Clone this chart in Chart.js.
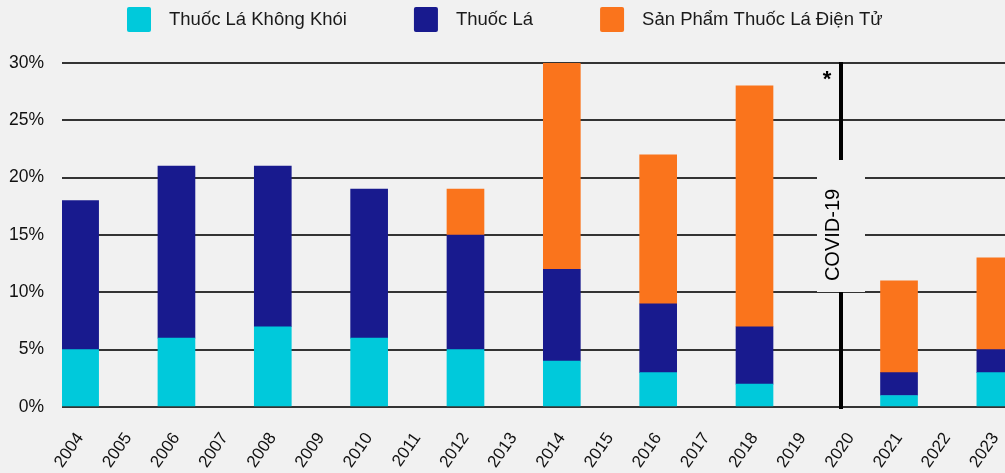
<!DOCTYPE html>
<html>
<head>
<meta charset="utf-8">
<script src="https://cdn.jsdelivr.net/npm/chart.js@4.4.0/dist/chart.umd.min.js"></script>
<style>
  html, body { margin: 0; padding: 0; background: #f1f1f1; overflow: hidden; }
  #wrap { position: relative; width: 1005px; height: 473px; }
</style>
</head>
<body>
<div id="wrap"><canvas id="myChart"></canvas></div>
<script>
// survey years that have a bar
var surveyYears = [2004, 2006, 2008, 2010, 2012, 2014, 2016, 2018, 2021, 2023];
// every year shown on the x axis
var yearLabels = [2004, 2005, 2006, 2007, 2008, 2009, 2010, 2011, 2012, 2013,
  2014, 2015, 2016, 2017, 2018, 2019, 2020, 2021, 2022, 2023];

var smokeless = [5, 6, 7, 6, 5, 4, 3, 2, 1, 3];
var cigarettes = [13, 15, 14, 13, 10, 8, 6, 5, 2, 2];
var ecigs = [0, 0, 0, 0, 4, 18, 13, 21, 8, 8];

var seriesNames = ["Thuốc Lá Không Khói", "Thuốc Lá", "Sản Phẩm Thuốc Lá Điện Tử"];
var yTicks = [0, 5, 10, 15, 20, 25, 30];

var covidYear = 2019.8;
var covidLabel = "COVID-19";

var FONT = "'Liberation Sans', Arial, sans-serif";
var BG = "#f1f1f1";

function points(values) {
  var out = [];
  for (var i = 0; i < surveyYears.length; i++) {
    if (values[i]) out.push({ x: surveyYears[i], y: values[i] });
  }
  return out;
}

// legend drawn on the canvas (box, wide gap, text)
var legendPlugin = {
  id: "topLegend",
  afterDraw: function (chart) {
    var c = chart.ctx;
    var x = 127;
    c.save();
    c.font = "18.5px " + FONT;
    c.textBaseline = "middle";
    chart.data.datasets.forEach(function (ds) {
      c.fillStyle = ds.backgroundColor;
      c.beginPath();
      c.roundRect(x, 7, 24, 25, 2);
      c.fill();
      x += 24 + 18;
      c.fillStyle = "#1a1a1a";
      c.fillText(ds.label, x, 20);
      x += c.measureText(ds.label).width + 67;
    });
    c.restore();
  },
};

// covid marker: vertical line, label with background, asterisk
var covidPlugin = {
  id: "covid",
  afterDatasetsDraw: function (chart) {
    var c = chart.ctx;
    var xs = chart.scales.x;
    var ys = chart.scales.y;
    var px = Math.round(xs.getPixelForValue(covidYear));
    var top = ys.getPixelForValue(30) - 1;
    var bottom = ys.getPixelForValue(0) + 2;
    c.save();
    c.strokeStyle = "#000";
    c.lineWidth = 4;
    c.beginPath();
    c.moveTo(px, top);
    c.lineTo(px, bottom);
    c.stroke();

    c.fillStyle = BG;
    c.fillRect(px - 24, 160, 48, 132);

    c.translate(px - 8, 235);
    c.rotate(-Math.PI / 2);
    c.fillStyle = "#000";
    c.font = "20px " + FONT;
    c.textAlign = "center";
    c.textBaseline = "middle";
    c.fillText(covidLabel, 0, 0);
    c.restore();

    c.save();
    c.fillStyle = "#000";
    c.font = "bold 22px " + FONT;
    c.textAlign = "center";
    c.textBaseline = "alphabetic";
    c.fillText("*", px - 14, 86);
    c.restore();
  },
};

const ctx = document.getElementById("myChart");

new Chart(ctx, {
  type: "bar",
  data: {
    datasets: [
      {
        label: seriesNames[0],
        data: points(smokeless),
        backgroundColor: "#00c9db",
      },
      {
        label: seriesNames[1],
        data: points(cigarettes),
        backgroundColor: "#181a8e",
      },
      {
        label: seriesNames[2],
        data: points(ecigs),
        backgroundColor: "#fa741c",
      },
    ],
  },
  options: {
    responsive: true,
    maintainAspectRatio: false,
    animation: false,
    barThickness: 37,
    layout: { padding: { top: 63, right: 0, left: 0, bottom: 0 } },
    scales: {
      x: {
        type: "linear",
        stacked: true,
        offset: false,
        min: 2003.624,
        max: 2023.2,
        grid: { display: false },
        border: { display: false },
        afterBuildTicks: function (scale) {
          scale.ticks = yearLabels.map(function (v) {
            return { value: v };
          });
        },
        afterFit: function (scale) {
          scale.height = 66;
          scale.paddingLeft = 0;
          scale.paddingRight = 0;
        },
        ticks: {
          autoSkip: false,
          stepSize: 1,
          minRotation: 55,
          maxRotation: 55,
          padding: 14,
          color: "#111",
          font: { family: FONT, size: 17 },
          callback: function (value) {
            return String(value);
          },
        },
      },
      y: {
        stacked: true,
        min: 0,
        max: 30,
        afterBuildTicks: function (scale) {
          scale.ticks = yTicks.map(function (v) {
            return { value: v };
          });
        },
        afterFit: function (scale) {
          scale.width = 62;
        },
        grid: {
          color: "#333",
          lineWidth: 2,
          drawTicks: false,
        },
        border: { display: false },
        ticks: {
          padding: 18,
          color: "#111",
          font: { family: FONT, size: 17.5 },
          callback: function (value) {
            return value + "%";
          },
        },
      },
    },
    plugins: {
      legend: { display: false },
      tooltip: { enabled: false },
    },
  },
  plugins: [legendPlugin, covidPlugin],
});
</script>
</body>
</html>
